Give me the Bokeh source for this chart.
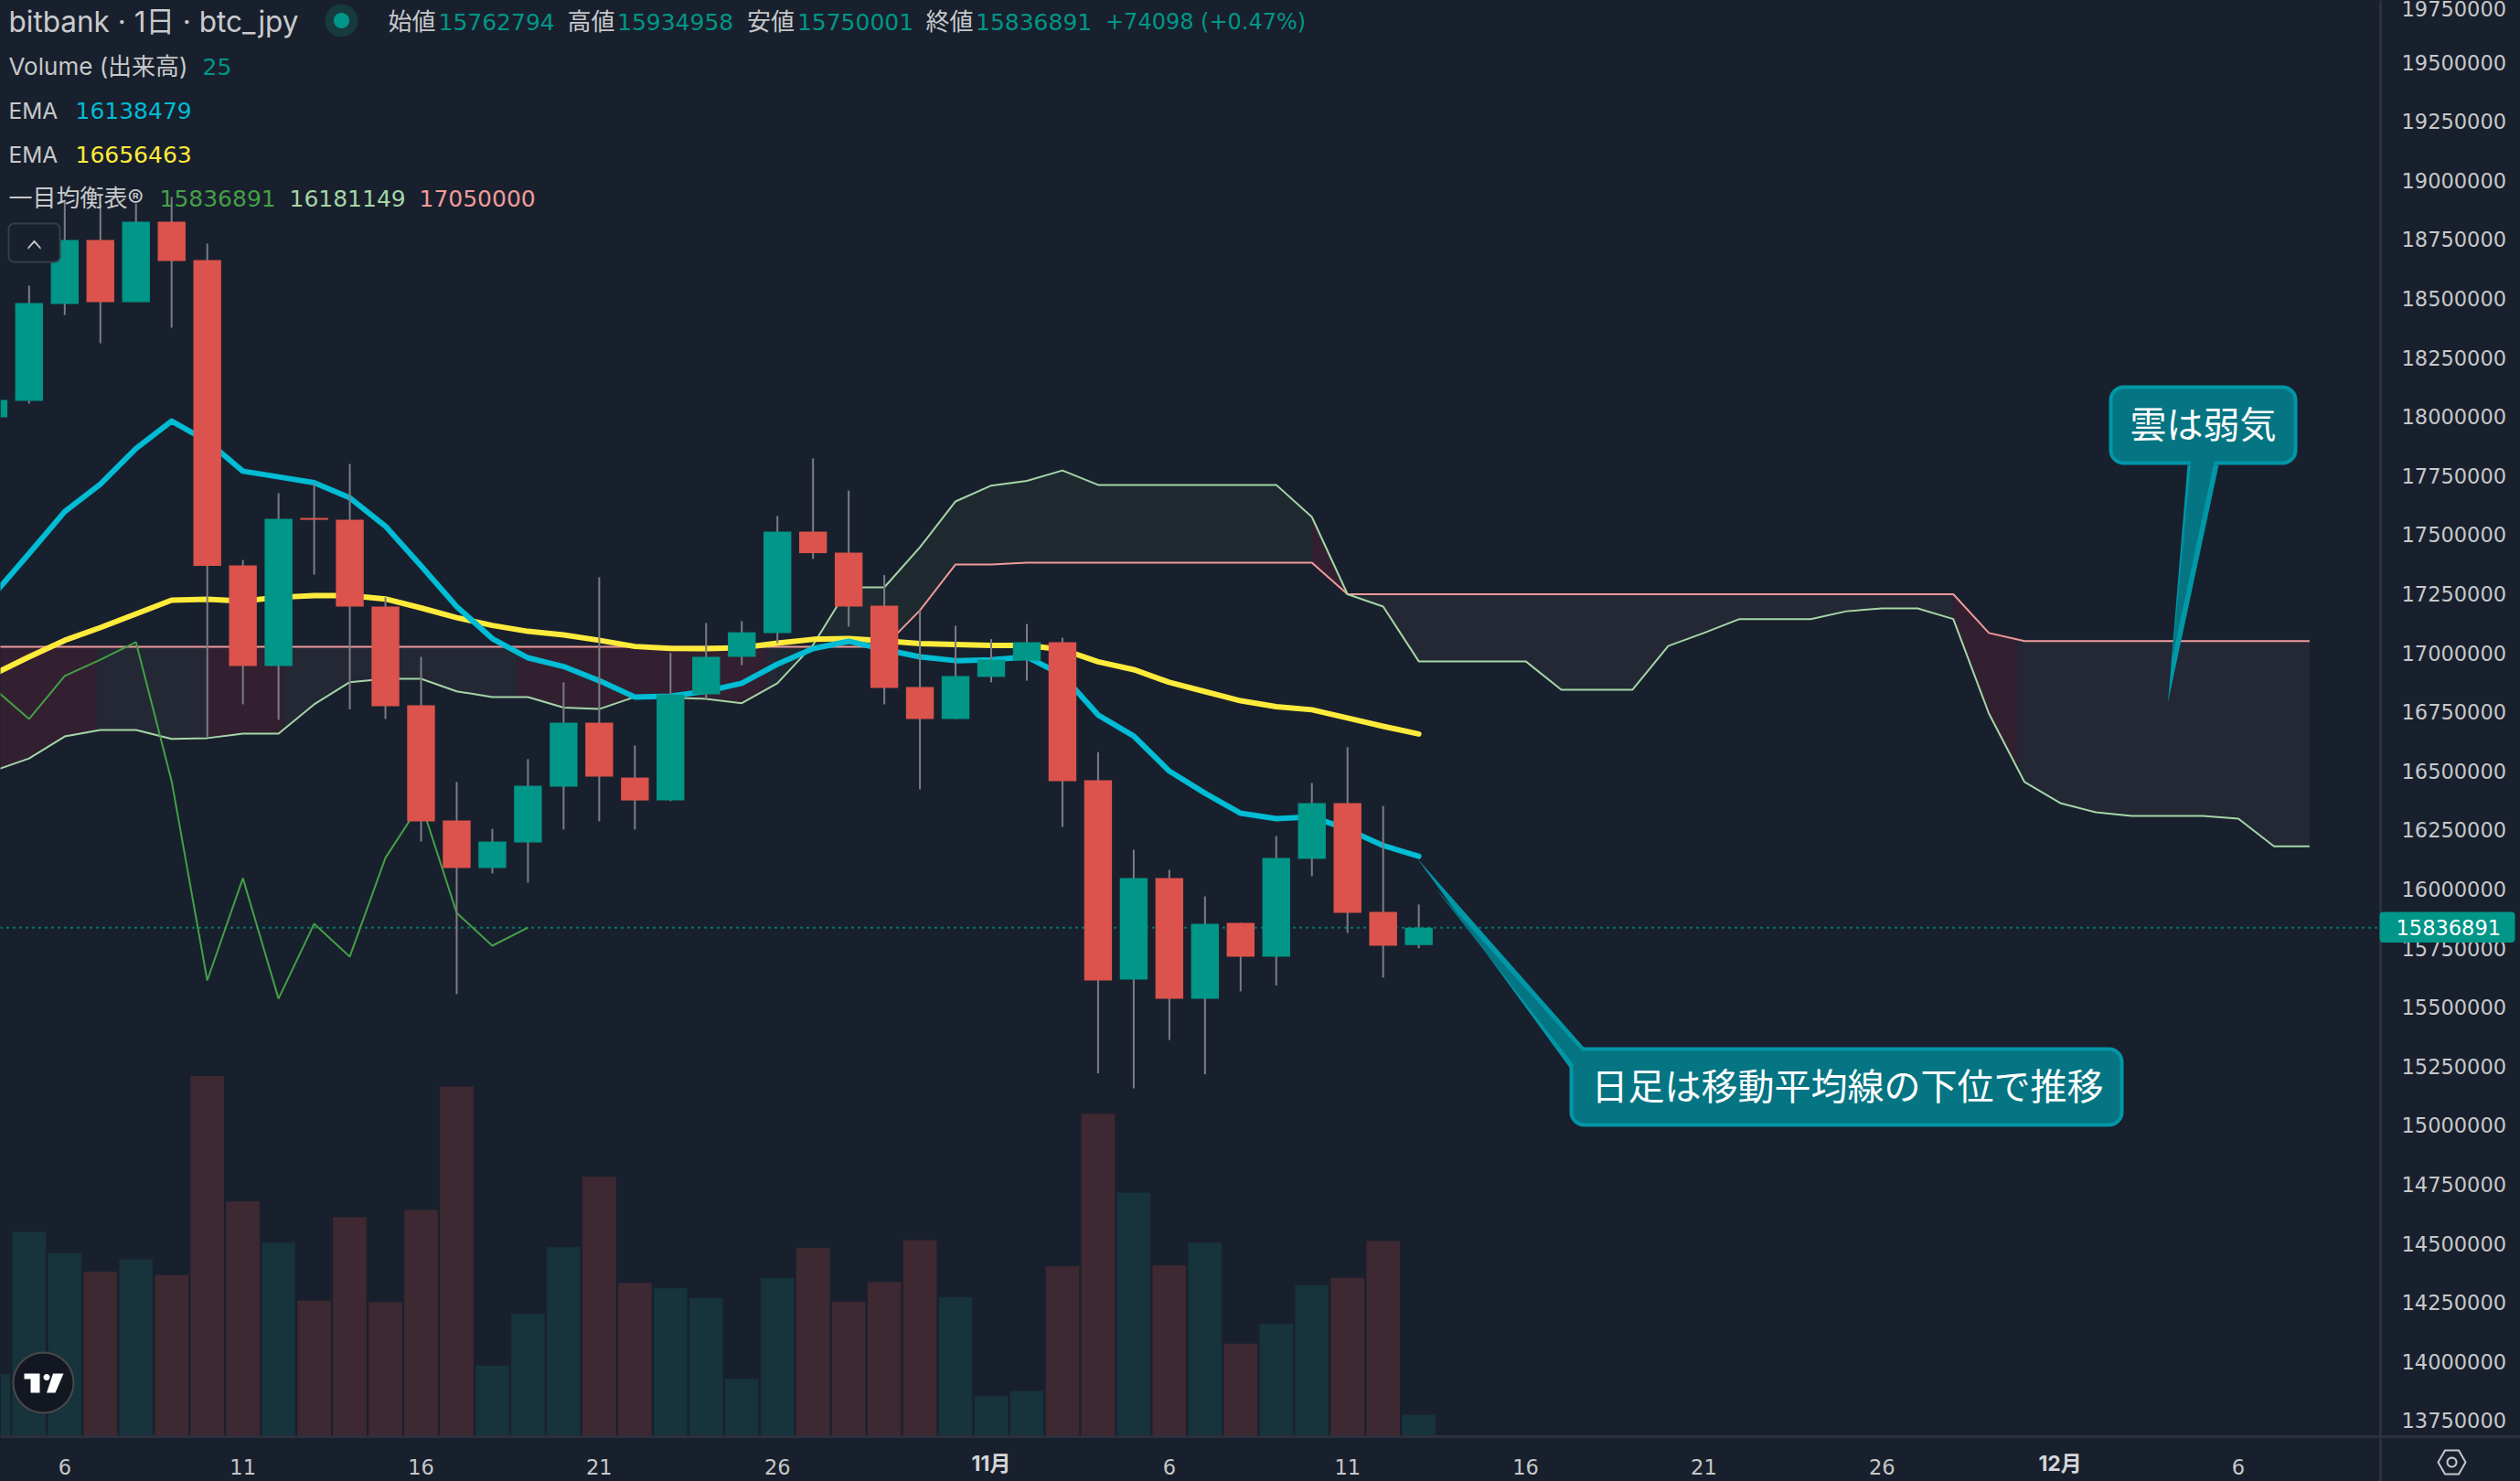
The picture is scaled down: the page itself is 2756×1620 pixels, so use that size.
from bokeh.plotting import figure
from bokeh.models import BoxAnnotation, FixedTicker, Label, NumeralTickFormatter, PolyAnnotation, Range1d
from bokeh.embed import file_html
from bokeh.resources import INLINE
import math
import numpy as np

# day number 0 is 6 Oct, the chart has one candle per day
first_day = -2
open_prices = [17997000, 18067000, 18477000, 18748000, 18485000, 18825000, 18663000, 17370000, 16944000, 17571000,
               17563000, 17196000, 16778000, 16290000, 16089000, 16197000, 16433000, 16704000, 16472000, 16375000,
               16824000, 16983000, 17084000, 17513000, 17424000, 17200000, 16855000, 16720000, 16898000, 16967000,
               17045000, 16461000, 15617000, 16046000, 15536000, 15857000, 15714000, 16128000, 16364000, 15903000,
               15762794]
close_prices = [18070000, 18481000, 18748000, 18485000, 18825000, 18659000, 17368000, 16944000, 17567000, 17563000,
                17196000, 16774000, 16286000, 16089000, 16201000, 16437000, 16704000, 16476000, 16375000, 16824000,
                16983000, 17087000, 17513000, 17422000, 17196000, 16851000, 16720000, 16902000, 16971000, 17045000,
                16457000, 15613000, 16046000, 15536000, 15853000, 15714000, 16132000, 16364000, 15899000, 15760000,
                15836891]
high_prices = [18070000, 18554000, 18910000, 18899000, 18902000, 18930000, 18732000, 17393000, 17676000, 17720000,
               17800000, 17235000, 16983000, 16453000, 16255000, 16550000, 16875000, 17320000, 16608000, 17000000,
               17126000, 17134000, 17579000, 17823000, 17687000, 17329000, 17180000, 17115000, 17058000, 17122000,
               17064000, 16580000, 16166000, 16081000, 15969000, 15857000, 16224000, 16449000, 16600000, 16352000,
               15934958]
low_prices = [17997000, 18055000, 18430000, 18310000, 18485000, 18376000, 16642000, 16782000, 16716000, 17331000,
              16760000, 16720000, 16201000, 15555000, 16066000, 16027000, 16252000, 16286000, 16252000, 16372000,
              16805000, 16948000, 17041000, 17397000, 17111000, 16782000, 16422000, 16720000, 16875000, 16882000,
              16263000, 15220000, 15156000, 15361000, 15216000, 15567000, 15592000, 16054000, 15814000, 15625000,
              15750001]
volumes = [71, 233, 209, 188, 202, 184, 411, 268, 221, 155, 250, 153, 258, 399, 81, 140, 216, 296, 175, 169,
           158, 66, 181, 215, 154, 176, 224, 159, 46, 52, 194, 368, 278, 195, 221, 106, 129, 173, 181, 223, 25]
ema_fast = [17246000, 17420000, 17598000, 17714000, 17865000, 17981000, 17896000, 17769000, 17745000, 17720000,
            17656000, 17536000, 17368000, 17196000, 17060000, 16979000, 16942000, 16882000, 16813000, 16817000,
            16837000, 16871000, 16952000, 17018000, 17049000, 17014000, 16983000, 16967000, 16970000, 16983000,
            16906000, 16737000, 16648000, 16499000, 16406000, 16321000, 16298000, 16306000, 16253000, 16184000,
            16138479]
ema_slow = [16909000, 16983000, 17053000, 17107000, 17165000, 17223000, 17227000, 17219000, 17235000, 17242000,
            17242000, 17228000, 17190000, 17149000, 17116000, 17091000, 17076000, 17053000, 17027000, 17019000,
            17018000, 17022000, 17041000, 17057000, 17060000, 17051000, 17039000, 17035000, 17031000, 17031000,
            17014000, 16962000, 16929000, 16875000, 16836000, 16797000, 16772000, 16759000, 16724000, 16689000,
            16656463]
lagging_span = [16851000, 16720000, 16902000, 16971000, 17045000, 16457000, 15613000, 16046000, 15536000, 15853000,
                15714000, 16132000, 16364000, 15899000, 15760000, 15836891]
leading_a = [16500000, 16553000, 16646000, 16673000, 16673000, 16636000, 16639000, 16658000, 16658000, 16782000,
             16876000, 16890000, 16890000, 16837000, 16813000, 16813000, 16768000, 16762000, 16813000, 16811000,
             16805000, 16787000, 16871000, 17033000, 17277000, 17277000, 17447000, 17641000, 17708000, 17728000,
             17772000, 17711000, 17711000, 17711000, 17711000, 17711000, 17711000, 17575000, 17248000, 17196000,
             16964000, 16964000, 16964000, 16964000, 16844000, 16844000, 16844000, 17029000, 17084000, 17143000,
             17143000, 17143000, 17176000, 17188000, 17188000, 17143000, 16743000, 16453000, 16364000, 16325000,
             16310000, 16310000, 16310000, 16298000, 16181149, 16181149]
leading_b = [17026000, 17026000, 17026000, 17026000, 17026000, 17026000, 17026000, 17026000, 17026000, 17026000,
             17026000, 17026000, 17026000, 17026000, 17026000, 17026000, 17026000, 17026000, 17026000, 17026000,
             17026000, 17026000, 17026000, 17026000, 17026000, 17026000, 17180000, 17374000, 17374000, 17382000,
             17382000, 17382000, 17382000, 17382000, 17382000, 17382000, 17382000, 17382000, 17248000, 17248000,
             17248000, 17248000, 17248000, 17248000, 17248000, 17248000, 17248000, 17248000, 17248000, 17248000,
             17248000, 17248000, 17248000, 17248000, 17248000, 17248000, 17084000, 17050000, 17050000, 17050000,
             17050000, 17050000, 17050000, 17050000, 17050000, 17050000]
# which stretch of the cloud has which tone (from day, to day, tone)
cloud_zones = [(-2, 0.9, "red"), (0.9, 3.97, "grey"), (3.97, 6.15, "red"), (6.15, 12.7, "grey"), (12.7, 19.7, "red"),
               (19.7, 20, "grey"), (20, 35, "green"), (35, 36, "red"), (36, 53, "grey"), (53, 54.8, "red"),
               (54.8, 63, "grey")]
price_ticks = [13750000, 14000000, 14250000, 14500000, 14750000, 15000000, 15250000, 15500000, 15750000, 16000000,
               16250000, 16500000, 16750000, 17000000, 17250000, 17500000, 17750000, 18000000, 18250000, 18500000,
               18750000, 19000000, 19250000, 19500000, 19750000]
day_ticks = [0, 5, 10, 15, 20, 31, 36, 41, 46, 51, 61]
day_tick_labels = ["6", "11", "16", "21", "26", "6", "11", "16", "21", "26", "6"]
month_ticks = [26, 56]
month_labels = ["11月", "12月"]

BG = "#19202d"
UP = "#009688"
DOWN = "#db534c"
UP_VOL = "#17333c"
DOWN_VOL = "#3e2932"
TEXT = "#c6c8ca"
LINE = "#2c303c"
TEAL_FILL = "#057583"
TEAL_EDGE = "#0097a7"
TONES = {"red": "#322030", "grey": "#232834", "green": "#1e2a30"}
FONT = "Inter, 'Noto Sans CJK JP'"
DIGITS = "'DejaVu Sans'"
JP_FONT = "'Noto Sans CJK JP'"

# the page is filled by the frame, the scales sit on fixed lines inside it
WIDTH, HEIGHT = 2756, 1620
AXIS_X, AXIS_Y = 2603, 1571


def day_at(px):
    return (px - 70.3) / 38.97


def price_at(py):
    return 19761632 - 3870 * py


def sx(px):
    return px


def sy(py):
    return HEIGHT - py


days = np.arange(first_day, first_day + len(open_prices))
cloud_days = np.arange(first_day, first_day + len(leading_a))
opens = np.array(open_prices)
closes = np.array(close_prices)
rising = closes >= opens

p = figure(width=WIDTH, height=HEIGHT, output_backend="svg", toolbar_location=None, tools="",
           x_range=Range1d(day_at(0), day_at(WIDTH)), y_range=Range1d(price_at(HEIGHT), price_at(0)),
           y_axis_location="right", background_fill_color=BG, border_fill_color=BG, min_border=0)
p.outline_line_color = None
p.grid.visible = False

p.extra_y_ranges = {"volume": Range1d(-(HEIGHT - AXIS_Y) / 0.96, AXIS_Y / 0.96)}

# axes
p.yaxis.ticker = FixedTicker(ticks=price_ticks)
p.yaxis.formatter = NumeralTickFormatter(format="0")
p.xaxis.ticker = FixedTicker(ticks=day_ticks)
p.xaxis.major_label_overrides = dict(zip(day_ticks, day_tick_labels))
p.yaxis.fixed_location = day_at(AXIS_X)
p.xaxis.fixed_location = price_at(AXIS_Y)
for ax in [p.xaxis[0], p.yaxis[0]]:
    ax.major_tick_line_color = None
    ax.minor_tick_line_color = None
    ax.axis_line_color = LINE
    ax.axis_line_width = 3
    ax.major_label_text_color = TEXT
    ax.major_label_text_font = DIGITS
    ax.major_label_text_font_size = "22.5px"
p.yaxis.major_label_standoff = 17
p.xaxis.major_label_standoff = 18

# volume
p.vbar(x=days, width=0.94, bottom=0, top=volumes, y_range_name="volume", line_color=None,
       fill_color=[UP_VOL if r else DOWN_VOL for r in rising])

# last price line
p.line([day_at(0), day_at(AXIS_X)], [close_prices[-1], close_prices[-1]], line_color=UP, line_width=2, line_dash=[2, 5])

# ichimoku cloud
for start, end, tone in cloud_zones:
    inner = cloud_days[(cloud_days > start) & (cloud_days < end)]
    xs = np.concatenate(([start], inner, [end]))
    p.varea(x=xs, y1=np.interp(xs, cloud_days, leading_a), y2=np.interp(xs, cloud_days, leading_b),
            fill_color=TONES[tone])
p.line(cloud_days, leading_b, line_color="#ef9a9a", line_width=2)
p.line(cloud_days, leading_a, line_color="#a5d6a7", line_width=2)
p.line(np.arange(first_day, first_day + len(lagging_span)), lagging_span, line_color="#43a047", line_width=2)

# moving averages
p.line(days, ema_slow, line_color="#ffeb3b", line_width=6, line_cap="round", line_join="round")
p.line(days, ema_fast, line_color="#00bcd4", line_width=6, line_cap="round", line_join="round")

# candles
p.segment(x0=days, x1=days, y0=low_prices, y1=high_prices, line_color="#7b7d82", line_width=2)
p.vbar(x=days, width=0.78, bottom=np.minimum(opens, closes), top=np.maximum(opens, closes), line_color=None,
       fill_color=[UP if r else DOWN for r in rising])


def txt(x, y, s, color=TEXT, size=26, font=FONT, style="normal", align="left"):
    p.add_layout(Label(x=sx(x), y=sy(y), x_units="screen", y_units="screen", text=s, text_color=color,
                       text_font=font, text_font_size=f"{size}px", text_font_style=style,
                       text_baseline="middle", text_align=align))


def box(left, right, top, bottom, fill, edge=None, width=0, radius=0):
    p.add_layout(BoxAnnotation(left=sx(left), right=sx(right), top=sy(top), bottom=sy(bottom), left_units="screen",
                               right_units="screen", top_units="screen", bottom_units="screen", fill_color=fill,
                               fill_alpha=1, line_color=edge, line_alpha=1, line_width=width, border_radius=radius))


def poly(points, fill, edge=None, width=0):
    p.add_layout(PolyAnnotation(xs=[sx(a) for a, b in points], ys=[sy(b) for a, b in points], xs_units="screen",
                                ys_units="screen", fill_color=fill, fill_alpha=1 if fill else 0, line_color=edge,
                                line_alpha=1, line_width=width))


def ring(cx, cy, r, fill, edge=None, width=0, sides=40):
    poly([(cx + r * math.cos(2 * math.pi * k / sides), cy + r * math.sin(2 * math.pi * k / sides))
          for k in range(sides)], fill, edge, width)


# month labels
for d, s in zip(month_ticks, month_labels):
    txt(70.3 + 38.97 * d, 1600, s, color="#d4d6d8", size=23, style="bold", align="center")

# last price badge
box(2602, 2750, 1030.5, 997, UP, radius=4)
txt(2620, 1014, str(close_prices[-1]), color="#ffffff", size=22.5, font=DIGITS)

# status line
txt(9, 23, "bitbank · 1日 · btc_jpy", color="#c9cbcd", size=31.5)
ring(373, 22, 18, "#163a3e")
ring(373, 22, 8.5, UP)
for x, label, x2, value in [(424, "始値", 479, open_prices[-1]), (620, "高値", 674.5, high_prices[-1]),
                            (816.5, "安値", 871.4, low_prices[-1]), (1012, "終値", 1066.5, close_prices[-1])]:
    txt(x, 23, label)
    txt(x2, 23, str(value), color=UP, size=25, font=DIGITS)
txt(1208.5, 23, "+74098 (+0.47%)", color=UP, size=24, font=DIGITS)

# indicator legend
txt(9, 72, "Volume (出来高)")
txt(221, 72, str(volumes[-1]), color=UP, size=25, font=DIGITS)
txt(9, 120, "EMA", size=24.5)
txt(82, 120, str(ema_fast[-1]), color="#00bcd4", size=25, font=DIGITS)
txt(9, 168, "EMA", size=24.5)
txt(82, 168, str(ema_slow[-1]), color="#ffeb3b", size=25, font=DIGITS)
txt(9, 216, "一目均衡表®")
txt(174, 216, str(lagging_span[-1]), color="#43a047", size=25, font=DIGITS)
txt(316, 216, str(leading_a[-1]), color="#a5d6a7", size=25, font=DIGITS)
txt(458, 216, str(leading_b[-1]), color="#ef9a9a", size=25, font=DIGITS)

# collapse button
box(9, 65, 286, 244, BG, edge="#363c4a", width=2, radius=6)
poly([(30, 270), (37, 262), (44, 270), (44, 272.5), (37, 265), (30, 272.5)], "#c6c8ca")

# callouts
poly([(1549, 938), (1718, 1170), (1736, 1150)], TEAL_EDGE)
box(1718, 2320, 1230, 1147, TEAL_FILL, edge=TEAL_EDGE, width=4, radius=14)
poly([(1570, 972), (1722, 1166), (1733, 1153)], TEAL_FILL)
txt(1740, 1185, "日足は移動平均線の下位で推移", color="#ffffff", size=40, font=JP_FONT)

poly([(2370.5, 768), (2392, 508), (2426, 508)], TEAL_EDGE)
box(2308, 2510, 506, 423, TEAL_FILL, edge=TEAL_EDGE, width=4, radius=14)
poly([(2375, 720), (2396, 500), (2422, 500)], TEAL_FILL)
txt(2329, 461, "雲は弱気", color="#ffffff", size=40, font=JP_FONT)

# TradingView logo
ring(47, 1512, 33, "#131722", edge="#4a4a4a", width=2)
poly([(26, 1502), (43, 1502), (43, 1523), (33, 1523), (33, 1508), (26, 1508)], "#ffffff")
ring(50.5, 1506, 3.5, "#ffffff", sides=16)
poly([(57.5, 1502), (69, 1502), (60, 1523), (50.5, 1523)], "#ffffff")

# chart settings icon
ring(2681, 1599, 15, None, edge=TEXT, width=2, sides=6)
ring(2681, 1599, 5, None, edge=TEXT, width=2, sides=20)

# page colour behind the canvas, so no light hairline shows at its edge
page = "{% block preamble %}<style>html, body { background: " + BG + "; }</style>{% endblock %}"
open("out.html", "w").write(file_html(p, INLINE, template=page))
